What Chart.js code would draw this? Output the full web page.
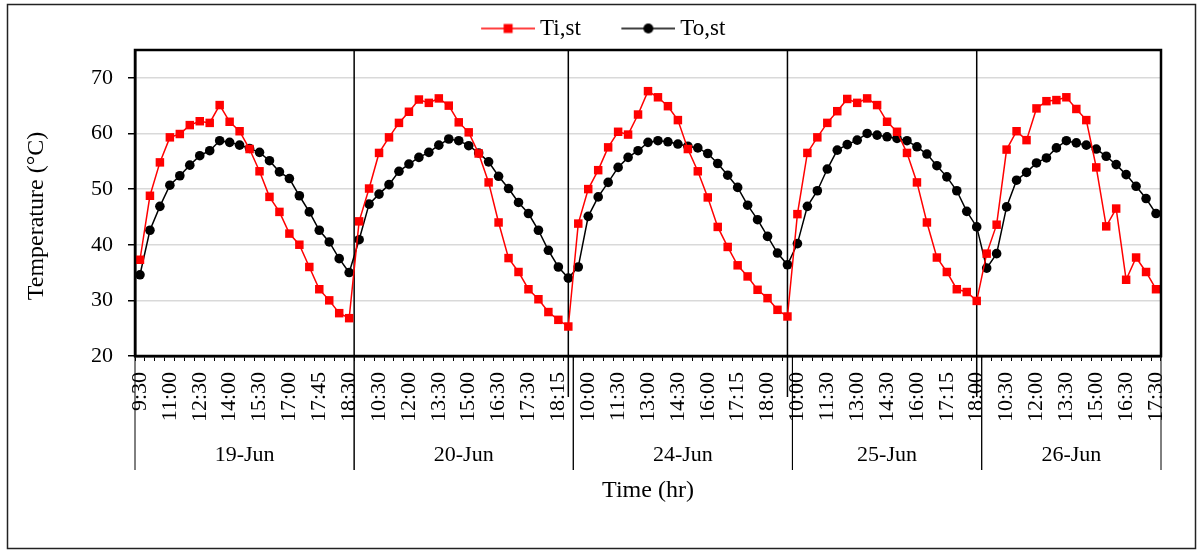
<!DOCTYPE html>
<html>
<head>
<meta charset="utf-8">
<script src="https://cdn.jsdelivr.net/npm/chart.js"></script>
<style>
  body { margin: 0; background: #fff; }
  #wrap { width: 1200px; height: 552px; }
</style>
</head>
<body>
<div id="wrap"><canvas id="chart" width="1200" height="552"></canvas></div>
<script>
// days shown on the second axis level
const days = ['19-Jun', '20-Jun', '24-Jun', '25-Jun', '26-Jun'];

// time of each reading, per day
const times19 = ['9:30', '10:00', '10:30', '11:00', '11:30', '12:00', '12:30', '13:00', '13:30', '14:00', '14:30', '15:00', '15:30', '16:00', '16:30', '17:00', '17:15', '17:30', '17:45', '18:00', '18:15', '18:30'];
const times20 = ['9:30', '10:00', '10:30', '11:00', '11:30', '12:00', '12:30', '13:00', '13:30', '14:00', '14:30', '15:00', '15:30', '16:00', '16:30', '17:00', '17:15', '17:30', '17:45', '18:00', '18:15', '18:30'];
const times24 = ['9:30', '10:00', '10:30', '11:00', '11:30', '12:00', '12:30', '13:00', '13:30', '14:00', '14:30', '15:00', '15:30', '16:00', '16:30', '17:00', '17:15', '17:30', '17:45', '18:00', '18:15', '18:30'];
const times25 = ['10:00', '10:30', '11:00', '11:30', '12:00', '12:30', '13:00', '13:30', '14:00', '14:30', '15:00', '15:30', '16:00', '16:30', '17:00', '17:15', '17:30', '17:45', '18:00'];
const times26 = ['9:30', '10:00', '10:30', '11:00', '11:30', '12:00', '12:30', '13:00', '13:30', '14:00', '14:30', '15:00', '15:30', '16:00', '16:30', '17:00', '17:15', '17:30'];

// Ti,st (inner) temperatures, degC
const ti19 = [37.3, 48.8, 54.8, 59.3, 59.9, 61.5, 62.2, 61.9, 65.1, 62.1, 60.4, 57.2, 53.2, 48.6, 45.9, 42.0, 40.0, 36.0, 32.0, 30.0, 27.7, 26.8];
const ti20 = [44.2, 50.1, 56.5, 59.3, 61.9, 63.9, 66.1, 65.5, 66.3, 65.0, 62.0, 60.2, 56.4, 51.2, 44.0, 37.6, 35.1, 32.0, 30.2, 27.9, 26.5, 25.3];
const ti24 = [43.8, 50.0, 53.4, 57.5, 60.3, 59.8, 63.4, 67.6, 66.5, 64.9, 62.4, 57.2, 53.2, 48.5, 43.2, 39.6, 36.3, 34.3, 31.9, 30.4, 28.3, 27.1];
const ti25 = [45.5, 56.5, 59.3, 61.9, 64.0, 66.2, 65.5, 66.3, 65.1, 62.1, 60.3, 56.5, 51.2, 44.0, 37.7, 35.1, 32.0, 31.5, 29.9];
const ti26 = [38.4, 43.6, 57.1, 60.4, 58.8, 64.5, 65.8, 66.0, 66.5, 64.4, 62.4, 53.9, 43.3, 46.5, 33.7, 37.7, 35.1, 32.0];

// To,st (outer) temperatures, degC
const to19 = [34.6, 42.6, 46.9, 50.7, 52.4, 54.3, 56.0, 56.9, 58.7, 58.4, 57.9, 57.3, 56.6, 55.1, 53.1, 51.9, 48.8, 45.9, 42.6, 40.5, 37.5, 35.0];
const to20 = [40.9, 47.3, 49.1, 50.8, 53.2, 54.5, 55.7, 56.6, 57.9, 59.0, 58.7, 57.8, 56.5, 54.9, 52.3, 50.1, 47.6, 45.6, 42.6, 39.0, 36.0, 34.0];
const to24 = [36.0, 45.1, 48.6, 51.2, 53.9, 55.7, 56.9, 58.4, 58.7, 58.5, 58.1, 57.7, 57.4, 56.4, 54.6, 52.5, 50.3, 47.1, 44.5, 41.5, 38.5, 36.4];
const to25 = [40.2, 46.9, 49.7, 53.6, 57.0, 58.0, 58.8, 60.0, 59.7, 59.4, 59.1, 58.7, 57.6, 56.3, 54.2, 52.2, 49.7, 46.0, 43.2];
const to26 = [35.8, 38.4, 46.8, 51.6, 53.0, 54.7, 55.6, 57.4, 58.7, 58.3, 57.9, 57.2, 55.9, 54.4, 52.6, 50.5, 48.3, 45.6];

const yTicks = [20, 30, 40, 50, 60, 70];

const dayTimes = [times19, times20, times24, times25, times26];
const labels = dayTimes.flat();
const tiSt = [].concat(ti19, ti20, ti24, ti25, ti26);
const toSt = [].concat(to19, to20, to24, to25, to26);

const FONT = "'Liberation Serif', 'Times New Roman', serif";

// legend sample: short line with the marker in the middle
function legendSymbol(color, shape) {
  const c = document.createElement('canvas');
  c.width = 91; c.height = 14;
  const g = c.getContext('2d');
  g.strokeStyle = color;
  g.fillStyle = color;
  g.lineWidth = 1.5;
  g.beginPath(); g.moveTo(37, 7); g.lineTo(91, 7); g.stroke();
  if (shape === 'rect') {
    g.fillRect(59.5, 2.5, 9, 9);
  } else {
    g.beginPath(); g.arc(64, 7, 5, 0, Math.PI * 2); g.fill();
  }
  return c;
}
const symbols = [legendSymbol('#ff0000', 'rect'), legendSymbol('#000000', 'circle')];

const decor = {
  id: 'decor',
  beforeDatasetsDraw(chart) {
    const { ctx, chartArea: a, scales: { x } } = chart;
    ctx.save();
    ctx.strokeStyle = '#000';
    ctx.lineWidth = 1.5;
    let start = 0;
    dayTimes.forEach((t, d) => {
      const end = start + t.length - 1;
      if (d < dayTimes.length - 1) {
        const px = d === 0 ? x.getPixelForValue(end + 0.5) : x.getPixelForValue(end);
        ctx.beginPath();
        ctx.moveTo(px, a.top);
        ctx.lineTo(px, d === 0 ? a.bottom : a.bottom + 41);
        ctx.stroke();
      }
      start += t.length;
    });
    ctx.restore();
  },
  afterDraw(chart) {
    const { ctx, chartArea: a, scales: { x } } = chart;
    ctx.save();
    // second level of the category axis
    ctx.strokeStyle = '#000';
    ctx.lineWidth = 1;
    ctx.fillStyle = '#000';
    ctx.font = '22px ' + FONT;
    ctx.textAlign = 'center';
    ctx.textBaseline = 'middle';
    let start = 0;
    dayTimes.forEach((t, d) => {
      const left = x.getPixelForValue(start - 0.5);
      const right = x.getPixelForValue(start + t.length - 0.5);
      ctx.beginPath();
      ctx.moveTo(left, a.bottom); ctx.lineTo(left, a.bottom + 114);
      ctx.moveTo(right, a.bottom); ctx.lineTo(right, a.bottom + 114);
      ctx.stroke();
      ctx.fillText(days[d], (left + right) / 2, a.bottom + 99);
      start += t.length;
    });
    // y axis title, sits a little below the plot centre like the original
    ctx.save();
    ctx.font = '24px ' + FONT;
    ctx.translate(37, 216);
    ctx.rotate(-Math.PI / 2);
    ctx.fillText('Temperature (°C)', 0, 0);
    ctx.restore();
    // plot frame
    ctx.lineWidth = 2.5;
    ctx.strokeRect(a.left, a.top, a.right - a.left, a.bottom - a.top);
    // chart frame
    ctx.lineWidth = 1.5;
    ctx.strokeStyle = '#222';
    ctx.strokeRect(7.5, 4.5, 1188, 544);
    ctx.restore();
  }
};

new Chart(document.getElementById('chart'), {
  type: 'line',
  data: {
    labels: labels,
    datasets: [
      {
        label: 'Ti,st',
        data: tiSt,
        borderColor: '#ff0000',
        backgroundColor: '#ff0000',
        borderWidth: 1.5,
        pointStyle: 'rect',
        pointRadius: 6,
        pointBorderWidth: 0,
        tension: 0,
      },
      {
        label: 'To,st',
        data: toSt,
        borderColor: '#000000',
        backgroundColor: '#000000',
        borderWidth: 1.5,
        pointStyle: 'circle',
        pointRadius: 4.8,
        pointBorderWidth: 0,
        tension: 0,
      },
    ],
  },
  options: {
    responsive: false,
    animation: false,
    layout: { padding: { top: 7, left: 15, right: 39, bottom: 40 } },
    plugins: {
      tooltip: { enabled: false },
      legend: {
        position: 'top',
        labels: {
          usePointStyle: true,
          pointStyleWidth: 78,
          padding: 10,
          color: '#000',
          font: { family: FONT, size: 23 },
          generateLabels: (chart) => chart.data.datasets.map((ds, i) => ({
            text: ds.label,
            pointStyle: symbols[i],
            datasetIndex: i,
            hidden: false,
            fillStyle: ds.borderColor,
            strokeStyle: ds.borderColor,
            lineWidth: 0,
          })),
        },
      },
    },
    scales: {
      x: {
        type: 'category',
        offset: true,
        afterFit: (scale) => { scale.height = 156; },
        grid: {
          offset: true,
          drawOnChartArea: false,
          drawTicks: true,
          tickLength: 5,
          tickColor: '#000',
          tickWidth: 1,
        },
        border: { color: '#000', width: 2.5 },
        ticks: {
          autoSkip: false,
          maxRotation: 90,
          minRotation: 90,
          padding: 11,
          color: '#000',
          font: { family: FONT, size: 22 },
          callback: function (value, index) {
            return index % 3 === 0 ? this.getLabelForValue(value) : '';
          },
        },
        title: {
          display: true,
          text: 'Time (hr)',
          color: '#000',
          font: { family: FONT, size: 24 },
          padding: { top: 0, bottom: 7 },
        },
      },
      y: {
        min: 20,
        max: 75,
        afterFit: (scale) => { scale.width = 120; },
        afterBuildTicks: (scale) => { scale.ticks = yTicks.map((v) => ({ value: v })); },
        grid: {
          color: '#d9d9d9',
          lineWidth: 1.5,
          tickColor: '#000',
          tickLength: 7,
          tickWidth: 1.5,
        },
        border: { color: '#000', width: 2.5 },
        ticks: {
          padding: 15,
          color: '#000',
          font: { family: FONT, size: 22 },
        },
      },
    },
  },
  plugins: [decor],
});
</script>
</body>
</html>
